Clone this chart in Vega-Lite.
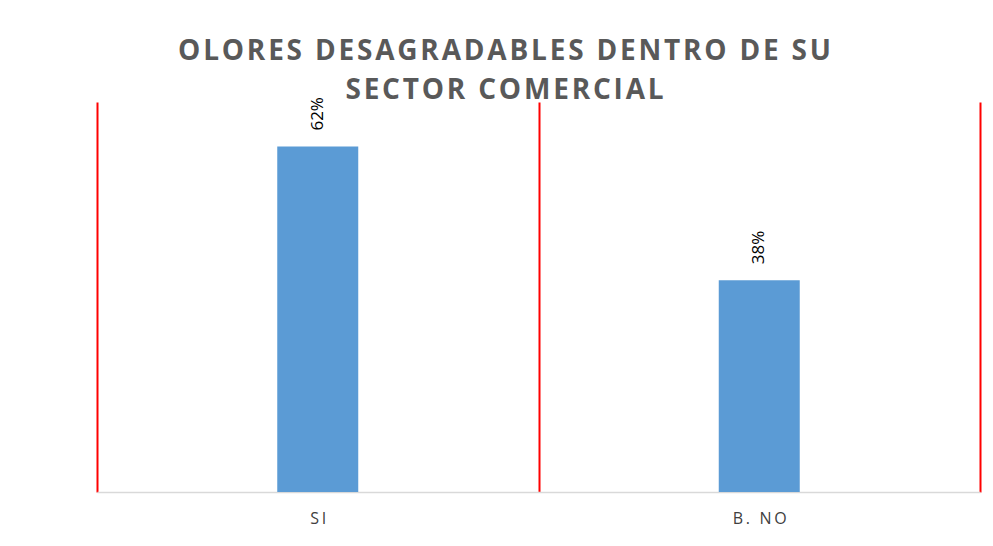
{
  "$schema": "https://vega.github.io/schema/vega-lite/v6.json",
  "width": 883,
  "height": 390,
  "autosize": "none",
  "padding": {"left": 97, "top": 102, "right": 13, "bottom": 54},
  "background": "white",
  "config": {"view": {"stroke": null}},
  "title": {
    "text": ["O\u200aL\u200aO\u200aR\u200aE\u200aS\u200a \u200aD\u200aE\u200aS\u200aA\u200aG\u200aR\u200aA\u200aD\u200aA\u200aB\u200aL\u200aE\u200aS\u200a \u200aD\u200aE\u200aN\u200aT\u200aR\u200aO\u200a \u200aD\u200aE\u200a \u200aS\u200aU", "S\u200aE\u200aC\u200aT\u200aO\u200aR\u200a \u200aC\u200aO\u200aM\u200aE\u200aR\u200aC\u200aI\u200aA\u200aL"],
    "font": "Open Sans",
    "fontSize": 28,
    "fontWeight": "bold",
    "color": "#595959",
    "anchor": "middle",
    "dx": -34,
    "offset": -8,
    "lineHeight": 39
  },
  "data": {
    "values": [
      {"respuesta": "SI", "porcentaje": 0.62},
      {"respuesta": "B. NO", "porcentaje": 0.38}
    ]
  },
  "encoding": {
    "x": {
      "field": "respuesta",
      "type": "nominal",
      "sort": null,
      "scale": {"paddingInner": 0, "paddingOuter": 0},
      "axis": {
        "title": null,
        "labelAngle": 0,
        "tickBand": "extent",
        "grid": true,
        "gridColor": "#ff0000",
        "gridWidth": 2,
        "ticks": false,
        "domainColor": "#d9d9d9",
        "domainWidth": 1.5,
        "labelFont": "Open Sans",
        "labelFontSize": 16,
        "labelColor": "#404040",
        "labelPadding": 18,
        "labelExpr": "join(split(datum.label, ''), '\u2009')"
      }
    },
    "y": {
      "field": "porcentaje",
      "type": "quantitative",
      "scale": {"domain": [0, 0.7]},
      "axis": null
    }
  },
  "layer": [
    {"mark": {"type": "bar", "size": 81, "color": "#5b9bd5"}},
    {
      "mark": {
        "type": "text",
        "angle": 270,
        "align": "left",
        "baseline": "middle",
        "dx": 16,
        "font": "Open Sans",
        "fontSize": 17,
        "color": "#000000"
      },
      "encoding": {"text": {"field": "porcentaje", "type": "quantitative", "format": ".0%"}}
    }
  ]
}
